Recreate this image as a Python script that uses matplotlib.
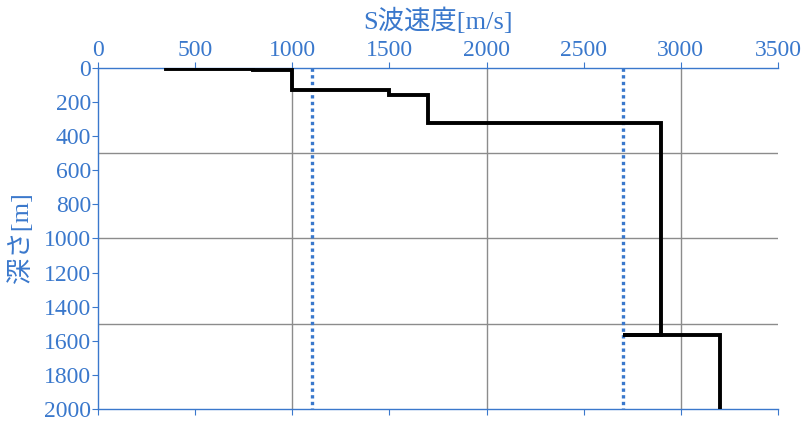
import numpy as np
import matplotlib
matplotlib.use("Agg")
import matplotlib.pyplot as plt

plt.rcParams["font.family"] = ["Liberation Serif", "Noto Sans CJK JP"]
BLUE, GRID = "#3a78cc", "#8c8c8c"

# S-wave velocity profile (m/s) vs depth (m), drawn as a step polyline
vs_line = [350, 800, 800, 1000, 1000, 1500, 1500, 1700, 1700, 2900, 2900, 2700, 3200, 3200]
dep_line = [5, 5, 12, 12, 125, 125, 157, 157, 323, 323, 1565, 1565, 1565, 2000]
ref_vs = [1100, 2700]          # blue dotted reference velocities
grid_x = [1000, 2000, 3000]
grid_y = [500, 1000, 1500]

fig = plt.figure(figsize=(8.1, 4.26), dpi=100)
ax = fig.add_axes([0.121, 0.0406, 0.8395, 0.7991])

for gx in grid_x: ax.axvline(gx, color=GRID, lw=1, zorder=1)
for gy in grid_y: ax.axhline(gy, color=GRID, lw=1, zorder=1)
for v in ref_vs:
    ax.plot([v, v], [0, 2000], color=BLUE, lw=2.4, linestyle=(0, (1, 1)), zorder=2)
ax.plot(vs_line, dep_line, color="black", lw=2.8, zorder=3, solid_joinstyle="miter")

ax.set_xlim(0, 3500); ax.set_ylim(2000, 0)
ax.set_xticks(np.arange(0, 3501, 500)); ax.set_yticks(np.arange(0, 2001, 200))
ax.tick_params(axis="x", top=True, labeltop=True, bottom=True, labelbottom=False)
ax.tick_params(colors=BLUE, labelcolor=BLUE, labelsize=17, direction="out", length=4, width=0.8, pad=1)
for s in ["top", "left", "bottom"]:
    ax.spines[s].set_color(BLUE); ax.spines[s].set_linewidth(1)
ax.spines["right"].set_visible(False)

fig.text(438 / 810, 1 - 21 / 426, "S波速度[m/s]", color=BLUE, fontsize=19, ha="center", va="center")
fig.text(20 / 810, 1 - 238 / 426, "深さ[m]", color=BLUE, fontsize=19, ha="center", va="center", rotation=90)

fig.savefig("out.png", dpi=100)
